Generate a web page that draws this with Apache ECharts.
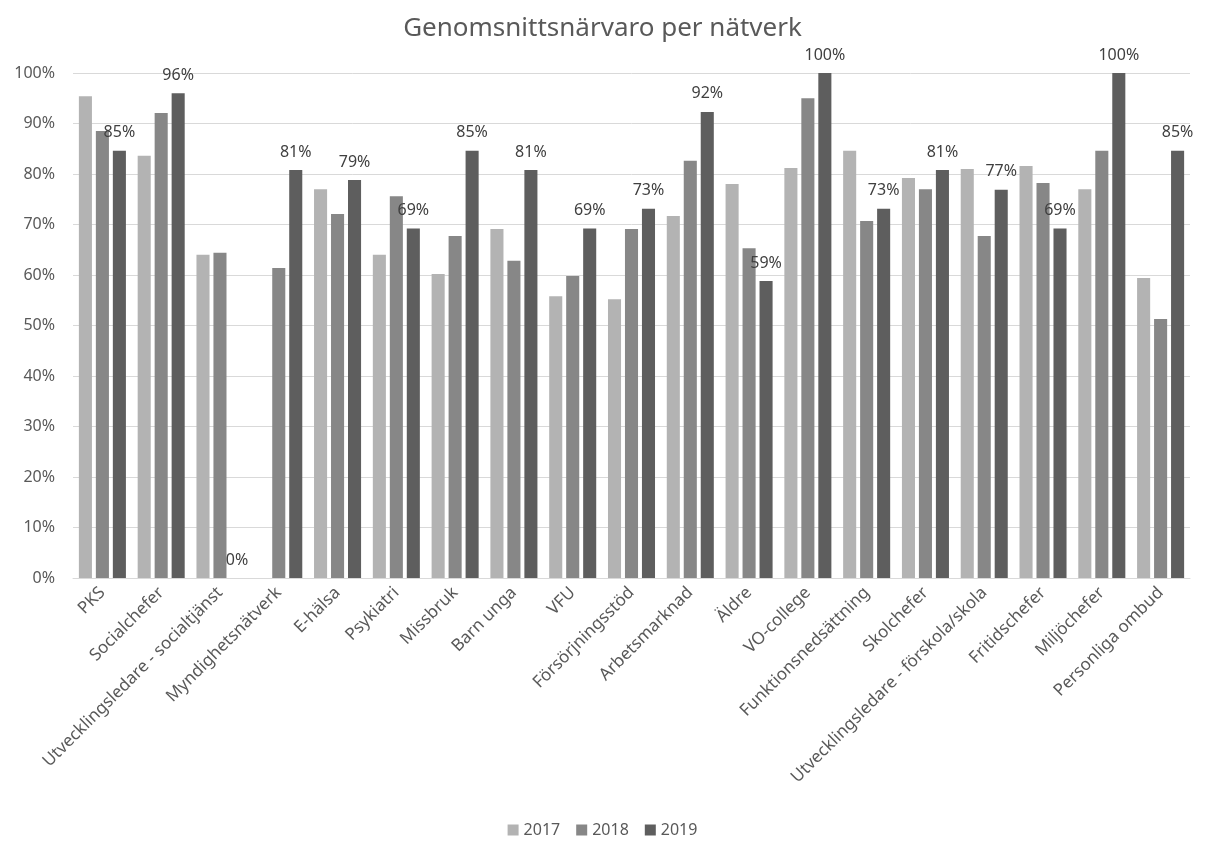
<!DOCTYPE html>
<html><head><meta charset="utf-8">
<script src="https://cdn.jsdelivr.net/npm/echarts@6/dist/echarts.min.js"></script>
<style>html,body{margin:0;padding:0;background:#fff}#c{width:1205px;height:843px}</style>
</head><body><div id="c"></div>
<script>
const categories = ["PKS","Socialchefer","Utvecklingsledare - socialtjänst","Myndighetsnätverk","E-hälsa","Psykiatri","Missbruk","Barn unga","VFU","Försörjningsstöd","Arbetsmarknad","Äldre","VO-college","Funktionsnedsättning","Skolchefer","Utvecklingsledare - förskola/skola","Fritidschefer","Miljöchefer","Personliga ombud"];
const v2017 = [95.4,83.6,64.0,null,77.0,64.0,60.2,69.1,55.8,55.2,71.7,78.0,81.2,84.6,79.2,81.0,81.6,77.0,59.4];
const v2018 = [88.5,92.1,64.4,61.4,72.1,75.6,67.7,62.8,59.8,69.1,82.6,65.3,95.0,70.7,77.0,67.7,78.2,84.6,51.3];
const v2019 = [84.6,96.0,0,80.8,78.8,69.2,84.6,80.8,69.2,73.1,92.3,58.8,100,73.1,80.8,76.9,69.2,100,84.6];
const yTicks = [0,10,20,30,40,50,60,70,80,90,100];
const FONT = "Noto Sans";
const chart = echarts.init(document.getElementById('c'));
chart.setOption({
  animation:false,
  textStyle:{fontFamily:FONT},
  title:{text:"Genomsnittsnärvaro per nätverk",left:'center',top:11,textStyle:{fontFamily:FONT,fontSize:26,fontWeight:'normal',color:'#595959'}},
  legend:{bottom:0,itemWidth:11,itemHeight:11,itemGap:16,icon:'rect',textStyle:{fontFamily:FONT,fontSize:16,color:'#595959'},data:['2017','2018','2019']},
  grid:{left:73,right:15,top:73,bottom:265},
  xAxis:{type:'category',data:categories,
    axisLine:{lineStyle:{color:'#d9d9d9'}},axisTick:{show:false},
    axisLabel:{rotate:45,interval:0,fontFamily:FONT,fontSize:17,color:'#595959',margin:12}},
  yAxis:{type:'value',min:0,max:100,interval:10,
    axisLine:{show:false},axisTick:{show:false},
    splitLine:{lineStyle:{color:'#d9d9d9'}},
    axisLabel:{fontFamily:FONT,fontSize:16,color:'#595959',margin:18,formatter:v=>v+'%'}},
  series:[
    {name:'2017',type:'bar',data:v2017,barGap:'30%',barCategoryGap:'20%',itemStyle:{color:'#b3b3b3'}},
    {name:'2018',type:'bar',data:v2018,itemStyle:{color:'#878787'}},
    {name:'2019',type:'bar',data:v2019,itemStyle:{color:'#5e5e5e'},
      label:{show:true,position:'top',distance:10,fontFamily:FONT,fontSize:16,color:'#404040',formatter:p=>Math.round(p.value)+'%'}}
  ]
});
</script></body></html>
